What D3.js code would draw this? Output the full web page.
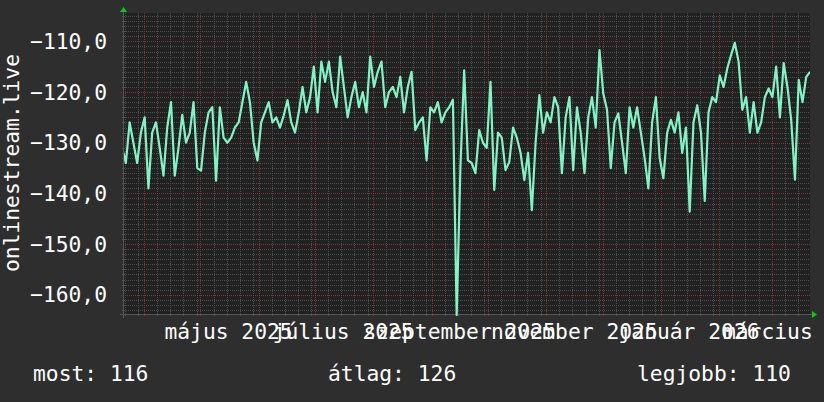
<!DOCTYPE html>
<html>
<head>
<meta charset="utf-8">
<script src="https://cdn.jsdelivr.net/npm/d3@7/dist/d3.min.js"></script>
<style>
  body { margin: 0; background: #2e2e2e; }
  svg { display: block; }
</style>
</head>
<body>
<svg id="chart" width="824" height="402"></svg>
<script>
// one value every 2 days, starting 2025-03-20
var startDate = new Date(2025, 2, 20, 9);
var stepDays = 2;
var values = [
  -131, -134, -126, -130, -134, -128, -125, -139, -128, -126,
  -131, -136.5, -127, -122, -136.5, -131, -124.5, -130, -128, -122,
  -135, -135.5, -128, -124, -123, -137.5, -123, -129, -130, -129,
  -127, -126, -122, -118, -122, -130, -133.5, -126, -124, -122,
  -126, -125, -127, -124.6, -121.6, -126, -128, -124, -119, -124,
  -121, -115, -124, -114, -118, -114, -120, -123, -113, -119,
  -125, -121, -118, -123, -120, -124, -113, -119, -116, -114,
  -123, -120, -119, -121, -117, -124, -119, -116, -127.5, -126,
  -125, -133.5, -123, -124, -122, -126, -124, -123, -121.5, -164,
  -134.8, -115.7, -133.5, -134, -136, -127.5, -130, -131, -118, -139.3,
  -128, -129, -135.4, -133.8, -127, -129, -132, -137.4, -132, -143.3,
  -130, -120.6, -128, -124, -126, -121, -123, -136, -125, -121,
  -135.4, -123, -128, -136, -125, -121, -127, -111.7, -120.3, -123.5,
  -135, -126, -124.2, -130, -136, -123, -127, -123, -128, -133,
  -139, -126, -121, -133, -137, -128, -125.5, -128, -124, -132,
  -127, -143.6, -126, -122.6, -128, -141.5, -124, -121, -122, -116.7,
  -119, -115.3, -112.7, -110.3, -114, -123.5, -121, -128, -122, -128,
  -126, -121, -119.3, -121, -115, -125, -114.3, -119, -125.5, -137.3,
  -117.6, -122, -117, -116
];
var yTicks = [-160, -150, -140, -130, -120, -110];
var monthLabels = ["május 2025", "július 2025", "szeptember 2025", "november 2025", "január 2026", "március 2026"];
var labelMonths = [new Date(2025, 4, 1), new Date(2025, 6, 1), new Date(2025, 8, 1), new Date(2025, 10, 1), new Date(2026, 0, 1), new Date(2026, 2, 1)];
var yTitle = "onlinestream.live";
var legendNames = ["most:", "átlag:", "legjobb:"];
var legendValues = [116, 126, 110];

var W = 824, H = 402;
var plotL = 124, plotR = 810, plotT = 13, plotB = 314;
var font = "'DejaVu Sans Mono', monospace";
var fs = 21.3;

var data = values.map(function(v, i) {
  return { t: d3.timeDay.offset(startDate, i * stepDays), v: v };
});

var viewStart = new Date(2025, 2, 21, 9);
var viewEnd = d3.timeDay.offset(viewStart, 365);
var x = d3.scaleTime()
  .domain([viewStart, viewEnd])
  .range([plotL, plotR]);
var y = d3.scaleLinear()
  .domain([-163.8, -104.4])
  .range([plotB, plotT]);

var svg = d3.select("#chart");

svg.append("defs").append("clipPath").attr("id", "plot-clip")
  .append("rect")
  .attr("x", plotL).attr("y", plotT - 2)
  .attr("width", plotR - plotL).attr("height", plotB - plotT + 4);

svg.append("rect").attr("width", W).attr("height", H).attr("fill", "#2e2e2e");
svg.append("rect")
  .attr("x", plotL).attr("y", plotT)
  .attr("width", plotR - plotL).attr("height", plotB - plotT)
  .attr("fill", "#212121");

var grid = svg.append("g").attr("shape-rendering", "crispEdges");

// horizontal grid: minor every 1, major every 10
d3.range(-163, -104).forEach(function(v) {
  var major = v % 10 === 0;
  var py = Math.round(y(v)) + 0.5;
  grid.append("line")
    .attr("x1", plotL - (major ? 3 : 2)).attr("x2", plotR)
    .attr("y1", py).attr("y2", py)
    .attr("stroke", major ? "#7c3434" : "#4e4e4e")
    .attr("stroke-dasharray", "1,1");
});

// vertical grid: minor at month start + 7,14,21,28 days, major at month start
var months = d3.timeMonth.range(d3.timeMonth.floor(viewStart), viewEnd);
var minorTimes = [];
months.forEach(function(m) {
  [7, 14, 21, 28].forEach(function(d) {
    var t = d3.timeDay.offset(m, d);
    if (t > viewStart && t < viewEnd && t.getMonth() === m.getMonth()) minorTimes.push(t);
  });
});
minorTimes.forEach(function(t) {
  var px = Math.round(x(t)) + 0.5;
  grid.append("line")
    .attr("x1", px).attr("x2", px).attr("y1", plotT).attr("y2", plotB + 2)
    .attr("stroke", "#4e4e4e").attr("stroke-dasharray", "1,1");
});
months.filter(function(m) { return m > viewStart; }).forEach(function(t) {
  var px = Math.round(x(t)) + 0.5;
  grid.append("line")
    .attr("x1", px).attr("x2", px).attr("y1", plotT).attr("y2", plotB + 3)
    .attr("stroke", "#7c3434").attr("stroke-dasharray", "1,1");
});

// axes
grid.append("line")
  .attr("x1", plotL - 4).attr("x2", plotR + 2).attr("y1", plotB + 0.5).attr("y2", plotB + 0.5)
  .attr("stroke", "#555");
grid.append("line")
  .attr("x1", plotL - 0.5).attr("x2", plotL - 0.5).attr("y1", plotT - 1).attr("y2", plotB + 4)
  .attr("stroke", "#555");

// arrows
svg.append("path")
  .attr("d", "M" + (plotL - 4) + "," + (plotT - 1) + "L" + (plotL + 3) + "," + (plotT - 1) + "L" + (plotL - 0.5) + "," + (plotT - 6) + "Z")
  .attr("fill", "#00d000");
svg.append("path")
  .attr("d", "M" + (plotR + 2) + "," + (plotB - 3) + "L" + (plotR + 2) + "," + (plotB + 4) + "L" + (plotR + 7) + "," + (plotB + 0.5) + "Z")
  .attr("fill", "#00d000");

// data line
var line = d3.line()
  .x(function(d) { return x(d.t); })
  .y(function(d) { return y(d.v); });
svg.append("path")
  .datum(data)
  .attr("clip-path", "url(#plot-clip)")
  .attr("d", line)
  .attr("fill", "none")
  .attr("stroke", "#7ff5c6")
  .attr("stroke-width", 2.2)
  .attr("stroke-linejoin", "round");

// y labels
svg.append("g").selectAll("text")
  .data(yTicks)
  .join("text")
  .attr("x", 107)
  .attr("y", function(d) { return y(d); })
  .attr("dy", "0.36em")
  .attr("text-anchor", "end")
  .attr("font-family", font).attr("font-size", fs).attr("fill", "#fff")
  .text(function(d) { return d3.format(".1f")(d).replace(".", ","); });

// month labels, centred half a month after the month start
svg.append("g").selectAll("text")
  .data(monthLabels)
  .join("text")
  .attr("x", function(d, i) { return x(d3.timeDay.offset(labelMonths[i], 15)); })
  .attr("y", 339)
  .attr("text-anchor", "middle")
  .attr("font-family", font).attr("font-size", fs).attr("fill", "#fff")
  .text(function(d) { return d; });

// y title
svg.append("text")
  .attr("transform", "translate(18.5,163) rotate(-90)")
  .attr("text-anchor", "middle")
  .attr("font-family", font).attr("font-size", fs).attr("fill", "#fff")
  .text(yTitle);

// legend
var legendX = [33, 328, 637];
svg.append("g").selectAll("text")
  .data(legendNames)
  .join("text")
  .attr("x", function(d, i) { return legendX[i]; })
  .attr("y", 381)
  .attr("font-family", font).attr("font-size", fs).attr("fill", "#fff")
  .attr("xml:space", "preserve")
  .text(function(d, i) { return d + " " + legendValues[i]; });
</script>
</body>
</html>
